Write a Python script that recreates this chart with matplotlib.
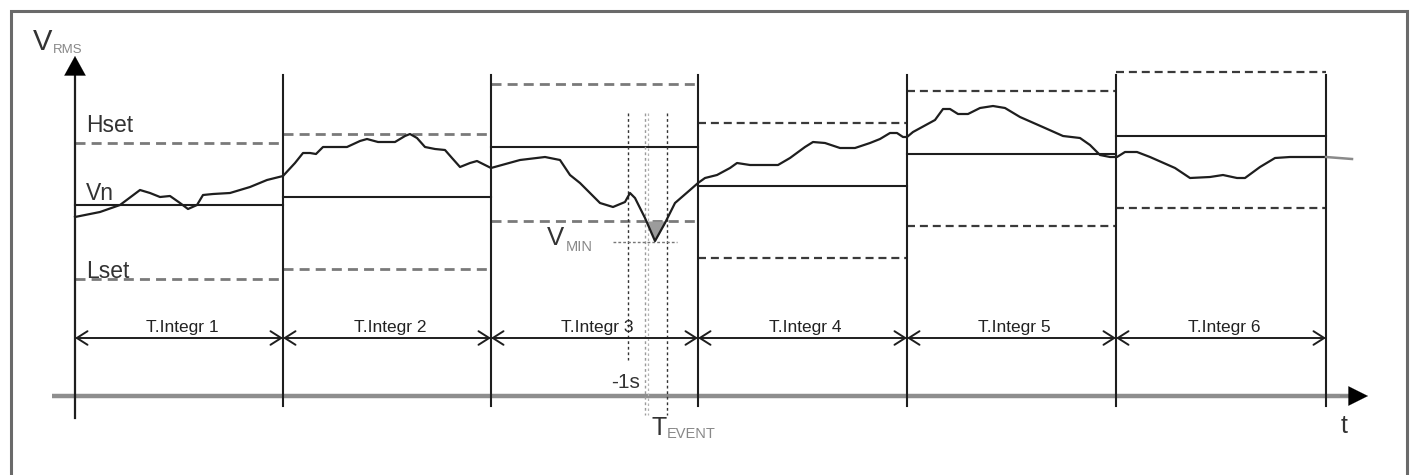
import numpy as np
import matplotlib
matplotlib.use("Agg")
import matplotlib.pyplot as plt

plt.rcParams['font.family'] = ['Liberation Sans', 'DejaVu Sans']

# ---- data (diagram units: t to the right, V downward in image units) ----
boundaries = [75, 283, 491, 698, 907, 1116, 1326]
hset_levels = [143, 134, 84, 123, 91, 72]
vn_levels = [205, 197, 147, 186, 154, 136]
lset_levels = [279, 269, 221, 258, 226, 208]
interval_labels = ["T.Integr 1", "T.Integr 2", "T.Integr 3",
                   "T.Integr 4", "T.Integr 5", "T.Integr 6"]

curve_t = [75, 100, 120, 140, 150, 160, 170, 180, 188, 197, 203, 213, 230, 250, 267, 283,
           295, 303, 310, 316, 323, 347, 360, 367, 378, 395, 405, 410, 417, 425, 435, 445,
           452, 460, 470, 477, 485, 491,
           520, 545, 560, 570, 580, 590, 600, 613, 625, 630, 635, 645, 655, 665, 675, 690, 698,
           705, 717, 730, 737, 750, 778, 790, 805, 813, 825, 840, 855, 870, 880, 890, 897,
           903, 907,
           913, 935, 943, 950, 958, 968, 980, 993, 1005, 1020, 1045, 1063, 1080, 1090, 1100,
           1110, 1117,
           1125, 1137, 1150, 1175, 1190, 1210, 1223, 1237, 1245, 1260, 1275, 1290, 1326]
curve_v = [217, 212, 205, 190, 193, 197, 196, 203, 209, 205, 195, 194, 193, 187, 180, 176,
           163, 153, 153, 154, 147, 147, 141, 139, 142, 142, 136, 134, 138, 147, 149, 150,
           158, 167, 163, 161, 165, 168,
           160, 157, 160, 175, 183, 193, 203, 207, 202, 193, 198, 218, 241, 223, 203, 190, 183,
           178, 175, 168, 163, 165, 165, 158, 147, 142, 143, 148, 148, 143, 139, 133, 133,
           137, 137,
           132, 120, 109, 109, 114, 114, 108, 106, 108, 117, 128, 136, 138, 145, 155,
           157, 157,
           152, 152, 157, 168, 178, 177, 175, 178, 178, 167, 158, 157, 157]
tail_t = [1326, 1352]
tail_v = [157, 159]

event_interval = 2          # T.Integr 3
event_start = 628           # -1s marker
event_lines = [645, 667]    # T_EVENT window
vmin_value = 242

# ---- figure ----
W, H = 1417, 475
fig = plt.figure(figsize=(W / 100, H / 100), dpi=100)
ax = fig.add_axes([0, 0, 1, 1])
ax.set_xlim(0, W)
ax.set_ylim(H, 0)
ax.axis('off')

dark = '#1e1e1e'

# outer frame
ax.plot([11, 11, 1407, 1407], [480, 11, 11, 480], color='#6a6a6a', lw=2.2,
        solid_joinstyle='miter', zorder=1)

# x axis
ax.plot([52, 1350], [396, 396], color='#8e8e8e', lw=3.2, zorder=2, solid_capstyle='butt')
ax.annotate('', xy=(1368, 396), xytext=(1340, 396),
            arrowprops=dict(arrowstyle='-|>,head_length=1.0,head_width=0.5',
                            mutation_scale=14, color='black', lw=0.1,
                            shrinkA=0, shrinkB=0), zorder=6)
# y axis
ax.plot([75, 75], [418, 68], color=dark, lw=1.6, zorder=4)
ax.annotate('', xy=(75, 56), xytext=(75, 80),
            arrowprops=dict(arrowstyle='-|>,head_length=1.0,head_width=0.55',
                            mutation_scale=14, color='black', lw=0.1,
                            shrinkA=0, shrinkB=0), zorder=6)

# interval boundaries
for b in boundaries[1:]:
    ax.plot([b, b], [75, 406], color=dark, lw=1.5, zorder=4)

# Hset / Vn / Lset levels per interval
for i in range(6):
    x0, x1 = boundaries[i], boundaries[i + 1]
    dcol = '#7a7a7a' if i < 3 else '#3a3a3a'
    dlw = 2.0 if i < 3 else 1.6
    ax.plot([x0, x1], [hset_levels[i], hset_levels[i]], color=dcol, lw=dlw,
            dashes=(3.6, 2.2), zorder=3)
    ax.plot([x0, x1], [lset_levels[i], lset_levels[i]], color=dcol, lw=dlw,
            dashes=(3.6, 2.2), zorder=3)
    ax.plot([x0, x1], [vn_levels[i], vn_levels[i]], color=dark, lw=1.5, zorder=3)
    # dimension arrows
    ax.annotate('', xy=(x1, 338), xytext=(x0, 338),
                arrowprops=dict(arrowstyle='<->,head_length=0.55,head_width=0.35',
                                mutation_scale=14, color=dark, lw=1.4,
                                shrinkA=0, shrinkB=0), zorder=4)
    ax.text((x0 + x1) / 2 + 3, 332, interval_labels[i], fontsize=12.5,
            ha='center', va='baseline', color='#222222', zorder=5)

# shaded V_MIN area (below Lset within event interval)
tt = np.linspace(boundaries[event_interval], boundaries[event_interval + 1], 600)
vv = np.interp(tt, curve_t, curve_v)
lev = lset_levels[event_interval]
ax.fill_between(tt, lev, vv, where=vv > lev, color='#9c9c9c', zorder=3, lw=0)

# event marker lines
ax.plot([event_start, event_start], [113, 360], color='#333333', lw=1.0,
        dashes=(2, 2), zorder=3)
ax.plot([event_lines[0], event_lines[0]], [113, 415], color='#9a9a9a', lw=1.0,
        dashes=(2, 2), zorder=3)
ax.plot([event_lines[0] + 3, event_lines[0] + 3], [113, 415], color='#b5b5b5', lw=0.9,
        dashes=(2, 2), zorder=3)
ax.plot([event_lines[1], event_lines[1]], [113, 415], color='#333333', lw=1.0,
        dashes=(2, 2), zorder=3)
ax.plot([613, 677], [vmin_value, vmin_value], color='#777777', lw=1.0,
        dashes=(2, 1.5), zorder=3)

# RMS curve
ax.plot(curve_t, curve_v, color=dark, lw=1.6, zorder=5, solid_joinstyle='round')
ax.plot(tail_t, tail_v, color='#8a8a8a', lw=1.8, zorder=5)

# labels
ax.text(33, 50, 'V', fontsize=21, color='#333333', va='baseline', ha='left')
ax.text(53, 53, 'RMS', fontsize=9.5, color='#888888', va='baseline', ha='left')
ax.text(86, 132, 'Hset', fontsize=16.5, color='#333333', va='baseline', ha='left')
ax.text(86, 200, 'Vn', fontsize=16.5, color='#333333', va='baseline', ha='left')
ax.text(86, 278, 'Lset', fontsize=16.5, color='#333333', va='baseline', ha='left')
ax.text(547, 245, 'V', fontsize=18.5, color='#333333', va='baseline', ha='left')
ax.text(566, 251, 'MIN', fontsize=10.5, color='#888888', va='baseline', ha='left')
ax.text(640, 388, '-1s', fontsize=15, color='#333333', va='baseline', ha='right')
ax.text(651, 435, 'T', fontsize=18, color='#333333', va='baseline', ha='left')
ax.text(667, 438, 'EVENT', fontsize=10.5, color='#888888', va='baseline', ha='left')
ax.text(1341, 433, 't', fontsize=18, color='#333333', va='baseline', ha='left')

fig.savefig('out.png', dpi=100, facecolor='white')
